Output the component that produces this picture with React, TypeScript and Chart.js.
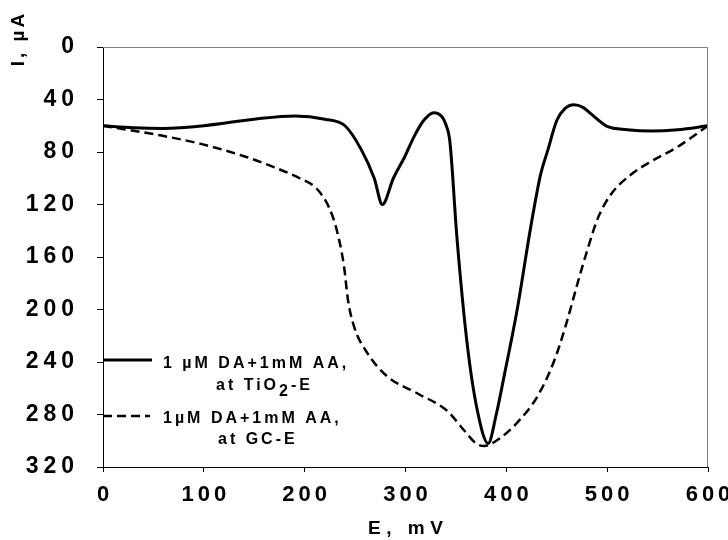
import React, { useEffect, useRef } from 'react';
import { Chart, registerables, LinearScale } from 'chart.js';

Chart.register(...registerables);

// ---- data ----
const solidE = [0, 30, 60, 100, 150, 190, 220, 240, 256, 269, 277, 288, 299, 309, 318, 328, 336, 340, 344, 351, 361, 371, 382, 390, 398, 411, 424, 434, 441, 450, 458, 467, 476, 484, 500, 520, 544, 570, 600];
const solidI = [60, 61.5, 62, 60, 55, 52.5, 55, 60, 78, 100, 120, 100, 84, 67.5, 56, 50, 53, 59, 72, 145, 225, 276, 302, 280, 250, 199, 138, 97, 79, 56, 47, 44, 46, 51, 60.5, 63, 64, 63, 60];

const dashedE = [0, 58, 98, 139, 171, 195, 212, 224, 232, 239, 243, 249, 262, 282, 312, 341, 358, 370, 378, 390, 411, 431, 447, 459, 471, 481, 491, 504, 524, 544, 570, 600];
const dashedI = [60, 67.5, 74, 83, 92, 100, 108, 122, 140, 167, 193, 213, 233, 251, 264, 277, 292, 302, 304, 300, 286, 266, 240, 212, 179, 153, 130, 112, 97, 87, 76, 60];

const seriesLabels = ['1 µM DA+1mM AA, at TiO2-E', '1µM DA+1mM AA, at GC-E'];
const xTitle = 'E, mV';
const yTitle = 'I, µA';

const FONT = "'Liberation Sans', Arial, sans-serif";

const LABEL_SPACING: Record<string, number> = { x: 4, y: 5 };
const TITLE_SPACING: Record<string, number> = { x: 5.5, y: 3 };

class SpacedLinearScale extends LinearScale {
  static id = 'spacedLinear';
  drawLabels(chartArea: any) {
    const ctx = (this as any).ctx as CanvasRenderingContext2D;
    const ls = LABEL_SPACING[(this as any).id] || 0;
    ctx.save();
    (ctx as any).letterSpacing = ls + 'px';
    if ((this as any).isHorizontal()) ctx.translate(ls / 2, 0);
    else ctx.translate(ls, 0);
    super.drawLabels(chartArea);
    ctx.restore();
  }
  drawTitle() {
    const ctx = (this as any).ctx as CanvasRenderingContext2D;
    const ls = TITLE_SPACING[(this as any).id] || 0;
    ctx.save();
    (ctx as any).letterSpacing = ls + 'px';
    if ((this as any).isHorizontal()) ctx.translate(ls / 2, 0);
    super.drawTitle();
    ctx.restore();
  }
}
Chart.register(SpacedLinearScale as any);

const framePlugin = {
  id: 'frameAndLegend',
  afterDatasetsDraw(chart: any) {
    const { ctx, chartArea } = chart;
    const { left, top, right, bottom } = chartArea;
    ctx.save();
    // gray frame top & right
    ctx.strokeStyle = '#808080';
    ctx.lineWidth = 1;
    ctx.beginPath();
    ctx.moveTo(left, top + 0.5);
    ctx.lineTo(right - 0.5, top + 0.5);
    ctx.lineTo(right - 0.5, bottom);
    ctx.stroke();

    // legend
    const ds = chart.data.datasets;
    const drawSample = (i: number, y: number, len: number) => {
      const d = ds[i];
      ctx.strokeStyle = d.borderColor;
      ctx.lineWidth = d.borderWidth;
      ctx.setLineDash(d.borderDash || []);
      ctx.beginPath();
      ctx.moveTo(left, y);
      ctx.lineTo(left + len, y);
      ctx.stroke();
      ctx.setLineDash([]);
    };
    drawSample(0, 360, 49);
    drawSample(1, 416, 47);

    ctx.fillStyle = '#000';
    ctx.font = `bold 16px ${FONT}`;
    (ctx as any).letterSpacing = '3px';
    ctx.textAlign = 'left';
    ctx.textBaseline = 'alphabetic';
    const tx = left + 60;
    ctx.fillText('1 µM DA+1mM AA,', tx, 368);
    let x2 = left + 113;
    ctx.fillText('at TiO', x2, 390);
    x2 += ctx.measureText('at TiO').width;
    ctx.fillText('2', x2, 395.5);
    x2 += ctx.measureText('2').width;
    ctx.fillText('-E', x2, 390);
    ctx.fillText('1µM DA+1mM AA,', tx, 423);
    ctx.fillText('at GC-E', left + 115, 444);

    // y axis title, rotated, at top of axis
    ctx.font = `bold 19px ${FONT}`;
    (ctx as any).letterSpacing = TITLE_SPACING.y + 'px';
    ctx.translate(18.5, 40);
    ctx.rotate(-Math.PI / 2);
    ctx.textAlign = 'center';
    ctx.textBaseline = 'middle';
    ctx.fillText(yTitle, TITLE_SPACING.y / 2, 0);
    ctx.restore();
  },
};

export default function App() {
  const ref = useRef<HTMLCanvasElement>(null);
  useEffect(() => {
    document.body.style.margin = '0';
    if (!ref.current) return;
    const chart = new Chart(ref.current, {
      type: 'line',
      data: {
        datasets: [
          {
            label: seriesLabels[0],
            data: solidE.map((e, i) => ({ x: e, y: solidI[i] })),
            borderColor: '#000',
            borderWidth: 3,
            pointRadius: 0,
            fill: false,
            cubicInterpolationMode: 'monotone',
          },
          {
            label: seriesLabels[1],
            data: dashedE.map((e, i) => ({ x: e, y: dashedI[i] })),
            borderColor: '#000',
            borderWidth: 2.5,
            borderDash: [9, 5],
            pointRadius: 0,
            fill: false,
            cubicInterpolationMode: 'monotone',
          },
        ],
      },
      options: {
        animation: false,
        responsive: false,
        devicePixelRatio: 1,
        layout: { padding: { left: 0, right: 20, top: 47, bottom: 0 } },
        plugins: { legend: { display: false }, tooltip: { enabled: false } },
        scales: {
          x: {
            type: 'spacedLinear' as any,
            min: 0,
            max: 600,
            ticks: {
              stepSize: 100,
              color: '#000',
              padding: 10,
              font: { family: FONT, size: 22, weight: 'bold' },
            },
            grid: { drawOnChartArea: false, drawTicks: true, tickLength: 5, color: '#000' },
            border: { display: true, color: '#000', width: 1 },
            title: {
              display: true,
              text: xTitle,
              color: '#000',
              padding: { top: 0, bottom: 0 },
              font: { family: FONT, size: 19, weight: 'bold' },
            },
            afterFit: (s: any) => { s.height = 73; s.paddingLeft = 0; s.paddingRight = 0; },
          },
          y: {
            type: 'spacedLinear' as any,
            reverse: true,
            min: 0,
            max: 320,
            ticks: {
              stepSize: 40,
              color: '#000',
              padding: 23,
              font: { family: FONT, size: 23, weight: 'bold' },
            },
            grid: { drawOnChartArea: false, drawTicks: true, tickLength: 6, color: '#000' },
            border: { display: true, color: '#000', width: 1 },
            afterFit: (s: any) => { s.width = 103; s.paddingTop = 0; s.paddingBottom = 0; },
          },
        },
      } as any,
      plugins: [framePlugin],
    });
    return () => chart.destroy();
  }, []);
  return <canvas ref={ref} width={728} height={540} style={{ display: 'block' }} />;
}
